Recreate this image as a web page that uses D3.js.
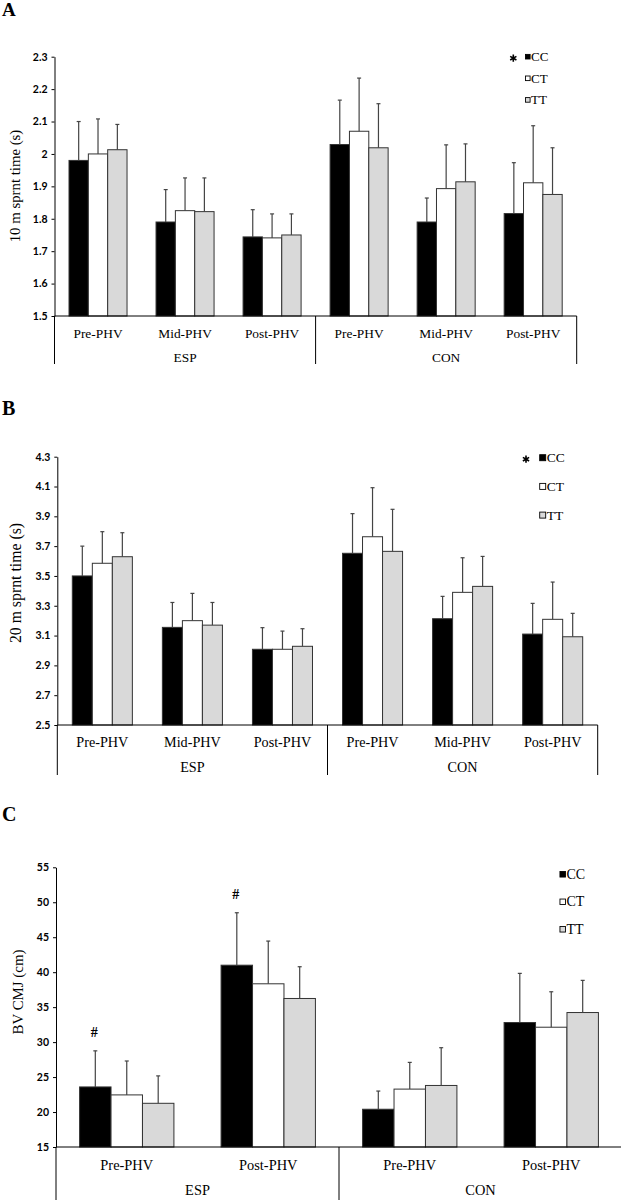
<!DOCTYPE html>
<html>
<head>
<meta charset="utf-8">
<script src="https://cdn.jsdelivr.net/npm/d3@7"></script>
<style>
body { margin: 0; background: #fff; }
svg { display: block; }
</style>
</head>
<body>
<div id="chart"></div>
<script>
var genotypes = ["CC", "CT", "TT"];
var groups = ["ESP", "CON"];
var phases3 = ["Pre-PHV", "Mid-PHV", "Post-PHV"];
var phases2 = ["Pre-PHV", "Post-PHV"];

// 10 m sprint time (s), order: ESP pre/mid/post, CON pre/mid/post
var sprint10CC = [1.98, 1.79, 1.744, 2.029, 1.79, 1.816];
var sprint10CT = [2.0, 1.825, 1.741, 2.07, 1.893, 1.911];
var sprint10TT = [2.013, 1.822, 1.75, 2.019, 1.914, 1.875];
var sprint10CCsd = [0.12, 0.10, 0.084, 0.137, 0.074, 0.157];
var sprint10CTsd = [0.108, 0.101, 0.074, 0.164, 0.135, 0.176];
var sprint10TTsd = [0.078, 0.104, 0.065, 0.136, 0.117, 0.144];
var sprint10Ticks = [1.5, 1.6, 1.7, 1.8, 1.9, 2, 2.1, 2.2, 2.3];

// 20 m sprint time (s)
var sprint20CC = [3.50, 3.155, 3.008, 3.652, 3.213, 3.11];
var sprint20CT = [3.585, 3.2, 3.008, 3.763, 3.39, 3.209];
var sprint20TT = [3.629, 3.17, 3.028, 3.665, 3.43, 3.092];
var sprint20CCsd = [0.20, 0.167, 0.145, 0.266, 0.15, 0.206];
var sprint20CTsd = [0.212, 0.183, 0.122, 0.329, 0.232, 0.25];
var sprint20TTsd = [0.161, 0.152, 0.118, 0.282, 0.201, 0.157];
var sprint20Ticks = [2.5, 2.7, 2.9, 3.1, 3.3, 3.5, 3.7, 3.9, 4.1, 4.3];

// BV CMJ (cm), order: ESP pre/post, CON pre/post
var cmjCC = [23.59, 41.0, 20.4, 32.8];
var cmjCT = [22.45, 38.34, 23.28, 32.13];
var cmjTT = [21.25, 36.24, 23.8, 34.23];
var cmjCCsd = [5.16, 7.5, 2.6, 7.03];
var cmjCTsd = [4.85, 6.11, 3.82, 5.07];
var cmjTTsd = [3.92, 4.54, 5.4, 4.6];
var cmjTicks = [15, 20, 25, 30, 35, 40, 45, 50, 55];

var colours = {CC: "#000000", CT: "#ffffff", TT: "#d9d9d9"};
var serif = "'Liberation Serif', 'Times New Roman', serif";

var svg = d3.select("#chart").append("svg")
  .attr("width", 621).attr("height", 1200);

function panel(o) {
  var cats = [];
  groups.forEach(g => o.phases.forEach(p => cats.push(g + "|" + p)));
  var x0 = d3.scaleBand().domain(cats).range([o.left, o.right]);
  var x1 = d3.scaleBand().domain(genotypes).range([0, x0.bandwidth()]).paddingOuter(0.75);
  var y = d3.scaleLinear()
    .domain([o.ticks[0], o.ticks[o.ticks.length - 1]])
    .range([o.base, o.top]);

  var g = svg.append("g");

  // panel letter
  g.append("text").attr("x", 2).attr("y", o.letterY)
    .attr("font-family", serif).attr("font-weight", "bold")
    .attr("font-size", o.letterSize).text(o.letter);

  // y axis
  g.append("g").attr("transform", "translate(" + o.left + ",0)")
    .call(d3.axisLeft(y).tickValues(o.ticks).tickSize(3).tickSizeOuter(0).tickPadding(4).tickFormat(o.fmt))
    .call(a => a.select(".domain").attr("stroke", "#000"))
    .call(a => a.selectAll(".tick line").attr("stroke", "#000"))
    .call(a => a.selectAll(".tick text")
      .attr("font-family", "Lato, 'Open Sans', sans-serif")
      .attr("font-weight", "bold").attr("font-size", 10.5).attr("fill", "#000"));

  // y title
  g.append("text")
    .attr("transform", "translate(" + o.titleX + "," + o.titleY + ") rotate(-90)")
    .attr("text-anchor", "middle").attr("font-family", serif)
    .attr("font-size", o.titleSize).text(o.title);

  // bars
  var rows = [];
  cats.forEach((c, i) => genotypes.forEach((gt, j) => {
    rows.push({cat: c, gt: gt, v: o.means[j][i], sd: o.sds[j][i]});
  }));

  g.selectAll(".bar").data(rows).enter().append("rect")
    .attr("x", d => x0(d.cat) + x1(d.gt))
    .attr("y", d => y(d.v))
    .attr("width", x1.bandwidth())
    .attr("height", d => o.base - y(d.v))
    .attr("fill", d => colours[d.gt])
    .attr("stroke", "#333").attr("stroke-width", 1);

  // error bars (upper only)
  var eb = g.selectAll(".err").data(rows).enter().append("g")
    .attr("stroke", "#444").attr("stroke-width", 1.2);
  eb.append("line")
    .attr("x1", d => x0(d.cat) + x1(d.gt) + x1.bandwidth() / 2)
    .attr("x2", d => x0(d.cat) + x1(d.gt) + x1.bandwidth() / 2)
    .attr("y1", d => y(d.v)).attr("y2", d => y(d.v + d.sd));
  eb.append("line")
    .attr("x1", d => x0(d.cat) + x1(d.gt) + x1.bandwidth() / 2 - 2)
    .attr("x2", d => x0(d.cat) + x1(d.gt) + x1.bandwidth() / 2 + 2)
    .attr("y1", d => y(d.v + d.sd)).attr("y2", d => y(d.v + d.sd));

  // "#" marks
  (o.hash || []).forEach(i => {
    var r = rows.filter(d => d.gt == "CC")[i];
    g.append("text")
      .attr("x", x0(r.cat) + x1("CC") + x1.bandwidth() / 2 - 1)
      .attr("y", y(r.v + r.sd) - 14)
      .attr("text-anchor", "middle").attr("font-family", serif)
      .attr("font-weight", "bold").attr("font-size", 14).text("#");
  });

  // baseline + category separators
  g.append("line").attr("x1", o.left).attr("x2", o.right)
    .attr("y1", o.base).attr("y2", o.base).attr("stroke", "#000");
  var edges = [o.left, x0(groups[1] + "|" + o.phases[0]), o.right];
  g.selectAll(".sep").data(edges).enter().append("line")
    .attr("x1", d => d).attr("x2", d => d)
    .attr("y1", o.base).attr("y2", o.bottom)
    .attr("stroke", "#000");

  // phase labels
  g.selectAll(".cat").data(cats).enter().append("text")
    .attr("x", d => x0(d) + x0.bandwidth() / 2)
    .attr("y", o.catY)
    .attr("text-anchor", "middle").attr("font-family", serif)
    .attr("font-size", o.catSize)
    .text(d => d.split("|")[1]);

  // group labels
  groups.forEach((gr, i) => {
    g.append("text")
      .attr("x", (edges[i] + edges[i + 1]) / 2)
      .attr("y", o.groupY)
      .attr("text-anchor", "middle").attr("font-family", serif)
      .attr("font-size", o.catSize).text(gr);
  });

  // legend
  var lg = o.legend;
  genotypes.forEach((gt, i) => {
    var cy = lg.y + i * lg.dy;
    g.append("rect")
      .attr("x", lg.x - lg.sq / 2).attr("y", cy - lg.sq / 2)
      .attr("width", lg.sq).attr("height", lg.sq)
      .attr("fill", colours[gt]).attr("stroke", "#000").attr("stroke-width", 0.9);
    g.append("text")
      .attr("x", lg.x + lg.sq / 2 + 1).attr("y", cy + lg.size * 0.33)
      .attr("font-family", serif).attr("font-size", lg.size).text(gt);
  });
  if (lg.star) {
    g.append("path")
      .attr("transform", "translate(" + lg.star + "," + (lg.y + 1.5) + ")")
      .attr("d", d3.symbol(d3.symbolAsterisk, 36)())
      .attr("stroke", "#000").attr("stroke-width", 1.6).attr("fill", "none");
  }
}

panel({
  letter: "A", letterY: 16, letterSize: 19,
  phases: phases3,
  means: [sprint10CC, sprint10CT, sprint10TT],
  sds: [sprint10CCsd, sprint10CTsd, sprint10TTsd],
  ticks: sprint10Ticks, fmt: d3.format(""),
  left: 54.5, right: 576.7, top: 56.7, base: 316, bottom: 364,
  title: "10 m sprnt time (s)", titleX: 19.5, titleY: 186, titleSize: 14.8,
  catY: 337.5, groupY: 361.5, catSize: 13.4,
  legend: {x: 527.8, y: 56.7, dy: 21.6, sq: 4.6, size: 13, star: 513.3}
});

panel({
  letter: "B", letterY: 415, letterSize: 20,
  phases: phases3,
  means: [sprint20CC, sprint20CT, sprint20TT],
  sds: [sprint20CCsd, sprint20CTsd, sprint20TTsd],
  ticks: sprint20Ticks, fmt: d3.format(".1f"),
  left: 57.3, right: 597.7, top: 456.7, base: 725, bottom: 775,
  title: "20 m sprnt time (s)", titleX: 20.5, titleY: 583, titleSize: 15.8,
  catY: 746.5, groupY: 771.5, catSize: 14.2,
  legend: {x: 542.7, y: 457.7, dy: 28.7, sq: 6, size: 13.5, star: 526}
});

panel({
  letter: "C", letterY: 821, letterSize: 20,
  phases: phases2,
  means: [cmjCC, cmjCT, cmjTT],
  sds: [cmjCCsd, cmjCTsd, cmjTTsd],
  ticks: cmjTicks, fmt: d3.format(""),
  hash: [0, 1],
  left: 56, right: 622, top: 867.3, base: 1147, bottom: 1200,
  title: "BV CMJ (cm)", titleX: 22.5, titleY: 992, titleSize: 14.9,
  catY: 1170, groupY: 1195, catSize: 14.4,
  legend: {x: 562.7, y: 874.3, dy: 27.5, sq: 5.5, size: 14, star: null}
});
</script>
</body>
</html>
